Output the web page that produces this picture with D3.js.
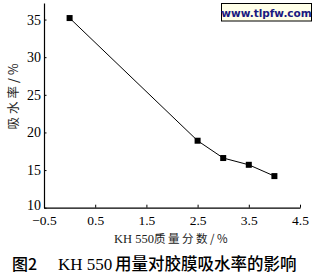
<!DOCTYPE html>
<html><head><meta charset="utf-8">
<script src="https://cdn.jsdelivr.net/npm/d3@7"></script>
<style>body{margin:0;background:#fff;}svg{display:block;}</style>
</head><body>
<script>
const xValues = [0, 2.5, 3, 3.5, 4];
const yValues = [35.2, 18.9, 16.6, 15.7, 14.2];
const xTicks = [-0.5, 0.5, 1.5, 2.5, 3.5, 4.5];
const yTicks = [10, 15, 20, 25, 30, 35];
const xTitle = ["KH 550", "质量分数/%"];
const yTitle = "吸水率/%";
const caption = ["图2", "KH 550", "用量对胶膜吸水率的影响"];
const watermark = "www.tlpfw.com";

const W = 315, H = 275;
const svg = d3.select("body").append("svg").attr("width", W).attr("height", H);
const x = d3.scaleLinear().domain([-0.5, 4.5]).range([44, 300]);
const y = d3.scaleLinear().domain([10, 37.2]).range([207.7, 3]);
const serif = "'Liberation Serif','Times New Roman',serif";
const cjk = "'Noto Sans CJK SC',sans-serif";

// axes
const xAxis = d3.axisBottom(x).tickValues(xTicks).tickSizeInner(-3).tickSizeOuter(0)
  .tickFormat(d => d < 0 ? "\u2212" + Math.abs(d).toFixed(1) : d.toFixed(1));
const gx = svg.append("g").attr("transform", `translate(0,${y(10)})`).call(xAxis);
gx.select(".domain").attr("stroke", "#000").attr("stroke-width", 1.2);
gx.selectAll(".tick line").attr("stroke", "#000");
gx.selectAll(".tick text").attr("font-family", serif).attr("font-size", 13.5).attr("fill", "#000").attr("dy", "0.85em").attr("y", 6);

const yAxis = d3.axisLeft(y).tickValues(yTicks).tickSizeInner(-2.5).tickSizeOuter(0).tickFormat(d3.format("d"));
const gy = svg.append("g").attr("transform", `translate(${x(-0.5)},0)`).call(yAxis);
gy.select(".domain").attr("stroke", "#000").attr("stroke-width", 1.2);
gy.selectAll(".tick line").attr("stroke", "#000");
gy.selectAll(".tick text").attr("font-family", serif).attr("font-size", 14).attr("fill", "#000").attr("x", -3)
  .attr("dy", d => d === 10 ? "0.1em" : "0.32em");

// line
svg.append("path")
  .datum(xValues.map((v, i) => [v, yValues[i]]))
  .attr("fill", "none").attr("stroke", "#000").attr("stroke-width", 1)
  .attr("d", d3.line().x(d => x(d[0])).y(d => y(d[1])));
svg.selectAll("rect.pt").data(xValues.map((v, i) => [v, yValues[i]])).enter()
  .append("rect").attr("class", "pt")
  .attr("x", d => x(d[0]) - 3).attr("y", d => y(d[1]) - 3)
  .attr("width", 6).attr("height", 6).attr("fill", "#000");

// axis titles
const xt = svg.append("text").attr("x", 172).attr("y", 243).attr("text-anchor", "middle").attr("fill", "#222");
xt.append("tspan").attr("font-family", serif).attr("font-size", 12.5).text(xTitle[0]);
xt.append("tspan").attr("font-family", cjk).attr("font-size", 11.5).attr("letter-spacing", 2.5).text(xTitle[1]);
svg.append("text").attr("transform", "translate(18,95) rotate(-90)").attr("text-anchor", "middle")
  .attr("font-family", cjk).attr("font-size", 12.5).attr("letter-spacing", 3).attr("fill", "#222").text(yTitle);

// caption
const cap = svg.append("text").attr("y", 270).attr("fill", "#000");
cap.append("tspan").attr("x", 12).attr("font-family", cjk).attr("font-size", 16).attr("font-weight", 500).text(caption[0]);
cap.append("tspan").attr("x", 58).attr("font-family", serif).attr("font-size", 17).text(caption[1]);
cap.append("tspan").attr("x", 115).attr("font-family", cjk).attr("font-size", 16.5).attr("font-weight", 500).text(caption[2]);

// watermark
svg.append("rect").attr("x", 221.5).attr("y", 3.5).attr("width", 90).attr("height", 17.5)
  .attr("fill", "#ffffe8").attr("stroke", "#000").attr("stroke-width", 1);
svg.append("text").attr("x", 266.5).attr("y", 16.5).attr("text-anchor", "middle")
  .attr("font-family", "'DejaVu Sans',Verdana,sans-serif").attr("font-weight", "bold").attr("font-size", 10.5)
  .attr("fill", "#1a1a80").text(watermark);
</script>
</body></html>
